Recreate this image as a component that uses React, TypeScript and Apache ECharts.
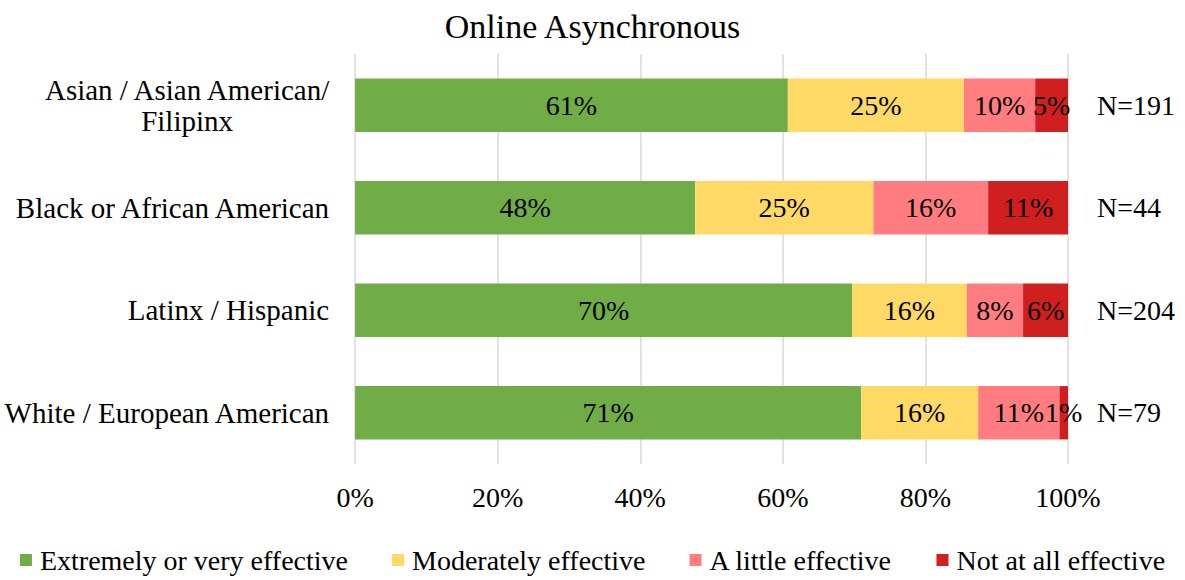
import React, { useEffect, useRef } from "react";
import * as echarts from "echarts";

const categories = [
  "Asian / Asian American/\nFilipinx",
  "Black or African American",
  "Latinx / Hispanic",
  "White / European American",
];
const nLabels = ["N=191", "N=44", "N=204", "N=79"];
const seriesNames = [
  "Extremely or very effective",
  "Moderately effective",
  "A little effective",
  "Not at all effective",
];
const extremely = [60.7, 47.7, 69.7, 71.0];
const moderately = [24.7, 25.0, 16.1, 16.4];
const aLittle = [10.0, 16.1, 7.9, 11.4];
const notAtAll = [4.6, 11.2, 6.3, 1.2];
const colors = ["#70AD47", "#FFD966", "#FF7C80", "#CF1F1F"];
const xTicks = [0, 20, 40, 60, 80, 100];

const FONT = "Liberation Serif";

export default function App() {
  const ref = useRef<HTMLDivElement>(null);
  useEffect(() => {
    if (!ref.current) return;
    const chart = echarts.init(ref.current, undefined, { renderer: "svg" });
    const data = [extremely, moderately, aLittle, notAtAll];
    chart.setOption({
      animation: false,
      textStyle: { fontFamily: FONT, color: "#000" },
      title: {
        text: "Online Asynchronous",
        left: "center",
        top: 4,
        textStyle: { fontFamily: FONT, fontSize: 34, fontWeight: "normal", color: "#000" },
      },
      legend: {
        top: 541,
        left: "center",
        itemWidth: 12,
        itemHeight: 12,
        itemGap: 44,
        icon: "rect",
        textStyle: { fontFamily: FONT, fontSize: 28, color: "#000", padding: [0, 0, 0, 3] },
        data: seriesNames,
      },
      grid: { left: 355, right: 117, top: 54, bottom: 116, containLabel: false },
      xAxis: {
        type: "value",
        min: 0,
        max: 100,
        interval: 20,
        axisLine: { show: false },
        axisTick: { show: false },
        splitLine: { show: true, lineStyle: { color: "#D9D9D9", width: 1.5 } },
        axisLabel: {
          fontFamily: FONT,
          fontSize: 28,
          color: "#000",
          margin: 19,
          formatter: (v: number) => (xTicks.includes(v) ? v + "%" : ""),
        },
      },
      yAxis: [
        {
          type: "category",
          inverse: true,
          data: categories,
          axisLine: { show: false },
          axisTick: { show: false },
          axisLabel: {
            fontFamily: FONT,
            fontSize: 29,
            color: "#000",
            margin: 26,
            lineHeight: 31,
            formatter: (v: string) => {
              if (v.includes("\n")) {
                return v
                  .split("\n")
                  .map((l) => "{c|" + l + "}")
                  .join("\n");
              }
              return v;
            },
            rich: {
              c: { fontFamily: FONT, fontSize: 29, color: "#000", width: 284, align: "center", lineHeight: 31 },
            },
          },
        },
        {
          type: "category",
          inverse: true,
          position: "right",
          data: nLabels,
          axisLine: { show: false },
          axisTick: { show: false },
          axisLabel: { fontFamily: FONT, fontSize: 28, color: "#000", margin: 29, align: "left" },
        },
      ],
      series: seriesNames.map((name, i) => ({
        name,
        type: "bar",
        stack: "total",
        yAxisIndex: 0,
        barWidth: "52%",
        itemStyle: { color: colors[i] },
        label: {
          show: true,
          position: "inside",
          fontFamily: FONT,
          fontSize: 28,
          color: "#000",
          formatter: (p: any) => Math.round(p.value) + "%",
        },
        data: data[i],
      })),
    });
    return () => chart.dispose();
  }, []);
  return (
    <div
      ref={ref}
      style={{ position: "absolute", left: 0, top: 0, width: 1185, height: 580 }}
    />
  );
}
